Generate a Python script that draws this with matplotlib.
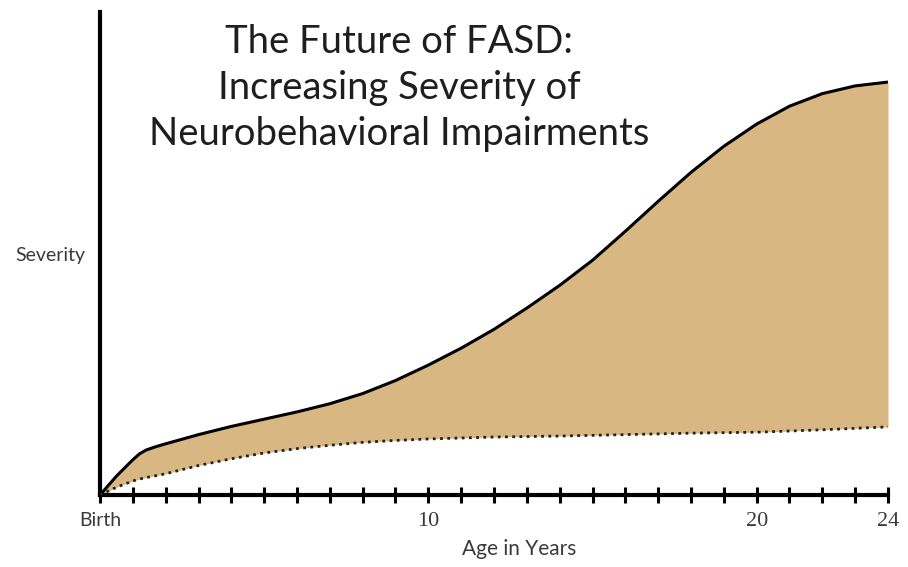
import matplotlib
matplotlib.use("Agg")
import matplotlib.pyplot as plt
import numpy as np

# Data (age in years, severity in arbitrary units 0-100)
age = [0, 0.5, 1, 1.2, 1.4, 1.7, 2, 3, 4, 5, 6, 7, 8, 9, 10, 11, 12, 13, 14,
       15, 16, 17, 18, 19, 20, 21, 22, 23, 24]
upper = [0, 3.9, 7.3, 8.5, 9.3, 10.0, 10.6, 12.5, 14.2, 15.7, 17.2, 18.9,
         21.0, 23.7, 26.9, 30.4, 34.3, 38.7, 43.4, 48.6, 54.6, 60.8, 66.8,
         72.2, 76.8, 80.5, 83.1, 84.7, 85.5]
lower = [0, 1.6, 2.9, 3.3, 3.6, 4.0, 4.4, 6.1, 7.5, 8.7, 9.6, 10.3, 10.9,
         11.3, 11.6, 11.8, 12.0, 12.1, 12.2, 12.35, 12.5, 12.65, 12.8, 12.9,
         13.0, 13.25, 13.5, 13.8, 14.1]
tick_years = list(range(0, 25))
tick_labels = {0: "Birth", 10: "10", 20: "20", 24: "24"}

title_lines = "The Future of FASD:\nIncreasing Severity of\nNeurobehavioral Impairments"

fig = plt.figure(figsize=(9.08, 5.67), dpi=100)
ax = fig.add_axes([100/908, 72/567, 788/908, 483/567])
ax.set_xlim(0, 24)
ax.set_ylim(0, 100)

ax.fill_between(age, lower, upper, color="#D8B782", lw=0, zorder=1)
ax.plot(age, upper, color="black", lw=2.2, solid_capstyle="butt",
        solid_joinstyle="round", zorder=3)
ax.plot(age, lower, color="#222222", lw=2.0, linestyle=(0, (1, 1.6)), zorder=3)

for s in ["top", "right"]:
    ax.spines[s].set_visible(False)
for s in ["left", "bottom"]:
    ax.spines[s].set_linewidth(3)
    ax.spines[s].set_color("black")

ax.set_xticks(tick_years)
ax.set_xticklabels([tick_labels.get(t, "") for t in tick_years])
ax.tick_params(axis="x", direction="inout", length=11, width=2.2, color="black",
               pad=7, labelsize=16, labelcolor="#3a3a3a")
ax.set_yticks([])
for lab in ax.get_xticklabels():
    lab.set_fontfamily("Liberation Serif")
ax.get_xticklabels()[0].set_fontfamily("Lato")
ax.get_xticklabels()[0].set_fontsize(14)

fig.text(519/908, 1 - 549/567, "Age in Years", fontsize=15, color="#3a3a3a",
         family="Lato", ha="center", va="center")
fig.text(15/908, 1 - 255/567, "Severity", fontsize=14, color="#3a3a3a",
         family="Lato", ha="left", va="center")

fig.text(399/908, 1 - 88/567, title_lines, fontsize=27.5, color="#1e1e1e",
         family="Lato", ha="center", va="center", linespacing=1.36)

fig.savefig("out.png", dpi=100)
